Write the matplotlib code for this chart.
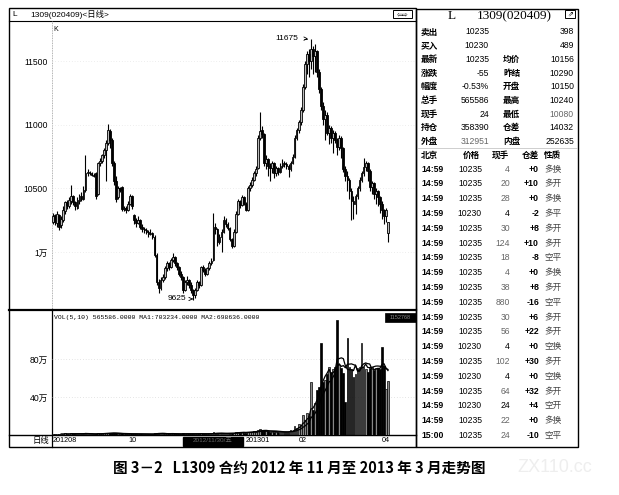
import matplotlib
matplotlib.use('Agg')
import matplotlib.pyplot as plt
import matplotlib.transforms as mtrans
from matplotlib.patches import Rectangle
import pandas as pd

# daily candles, Aug 2012 .. Apr 2013
opens = [10240, 10290, 10230, 10290, 10210, 10250, 10320, 10390, 10360, 10400,
         10440, 10390, 10350, 10400, 10440, 10420, 10490, 10620, 10630, 10620,
         10610, 10620, 10460, 10700, 10720, 10760, 10800, 10860, 10950, 10880,
         10700, 10560, 10430, 10500, 10510, 10340, 10350, 10330, 10380, 10440,
         10290, 10250, 10230, 10250, 10200, 10180, 10170, 10160, 10140, 10150,
         10120, 9980, 9760, 9720, 9780, 9800, 9870, 9910, 9880, 9940,
         9960, 9910, 9880, 9830, 9800, 9700, 9760, 9780, 9740, 9700,
         9660, 9700, 9760, 9740, 9880, 9860, 9830, 9870, 9910, 9940,
         10200, 10180, 10080, 10120, 10160, 10250, 10220, 10190, 10100, 10050,
         10160, 10300, 10400, 10370, 10430, 10380, 10330, 10500, 10530, 10570,
         10620, 10660, 10900, 10960, 10930, 10700, 10730, 10680, 10660, 10700,
         10620, 10660, 10630, 10680, 10700, 10690, 10680, 10650, 10700, 10750,
         10900, 10960, 11020, 11120, 11300, 11480, 11560, 11500, 11600, 11540,
         11580, 11420, 11280, 11150, 11050, 11080, 10940, 10980, 10900, 10940,
         10880, 10830, 10900, 10820, 10650, 10600, 10570, 10480, 10400, 10380,
         10440, 10500, 10570, 10620, 10670, 10700, 10640, 10510, 10540, 10460,
         10480, 10430, 10380, 10330, 10280, 10150]
highs = [10310, 10300, 10320, 10300, 10280, 10360, 10400, 10410, 10430, 10530,
         10450, 10400, 10430, 10460, 10470, 10520, 10760, 10650, 10640, 10630,
         10620, 10630, 10710, 10740, 10770, 10820, 10880, 11010, 10970, 10900,
         10720, 10600, 10520, 10510, 10520, 10360, 10360, 10400, 10460, 10450,
         10300, 10270, 10280, 10260, 10220, 10200, 10190, 10170, 10180, 10160,
         10130, 9990, 9790, 9800, 9830, 9890, 9930, 9920, 9950, 9990,
         9970, 9920, 9890, 9850, 9810, 9780, 9810, 9790, 9760, 9710,
         9720, 9780, 9770, 9890, 9900, 9870, 9880, 9930, 9950, 10310,
         10230, 10190, 10140, 10180, 10280, 10270, 10240, 10200, 10110, 10180,
         10320, 10420, 10410, 10450, 10440, 10390, 10520, 10550, 10590, 10640,
         10680, 10920, 11100, 10990, 10940, 10760, 10740, 10700, 10720, 10710,
         10680, 10670, 10700, 10730, 10720, 10710, 10690, 10720, 10770, 10920,
         10980, 11040, 11140, 11320, 11500, 11580, 11600, 11675, 11620, 11640,
         11590, 11440, 11300, 11180, 11120, 11100, 11000, 10990, 10960, 10950,
         10900, 10920, 10910, 10830, 10680, 10640, 10580, 10500, 10440, 10460,
         10520, 10590, 10640, 10740, 10720, 10710, 10650, 10560, 10550, 10500,
         10490, 10440, 10400, 10340, 10350, 10240]
lows = [10220, 10210, 10200, 10170, 10190, 10240, 10300, 10340, 10350, 10380,
        10370, 10330, 10340, 10380, 10400, 10410, 10470, 10600, 10610, 10600,
        10590, 10420, 10450, 10680, 10700, 10740, 10560, 10840, 10820, 10680,
        10530, 10390, 10420, 10470, 10320, 10320, 10310, 10320, 10370, 10340,
        10220, 10200, 10220, 10180, 10160, 10150, 10140, 10120, 10130, 10100,
        9960, 9740, 9680, 9700, 9760, 9790, 9850, 9860, 9870, 9920,
        9890, 9860, 9810, 9780, 9680, 9690, 9740, 9720, 9680, 9625,
        9640, 9690, 9720, 9730, 9840, 9810, 9820, 9860, 9900, 9930,
        10140, 10050, 10060, 10000, 10150, 10200, 10170, 10090, 10030, 10040,
        10150, 10290, 10350, 10360, 10370, 10320, 10320, 10480, 10510, 10560,
        10600, 10650, 10880, 10900, 10680, 10650, 10600, 10560, 10620, 10580,
        10600, 10610, 10620, 10660, 10670, 10650, 10590, 10640, 10690, 10740,
        10880, 10940, 11000, 11100, 11280, 11400, 11380, 11440, 11400, 11420,
        11380, 11250, 11120, 11000, 10880, 10920, 10850, 10860, 10780, 10860,
        10760, 10800, 10740, 10630, 10560, 10480, 10420, 10250, 10260, 10300,
        10420, 10480, 10550, 10600, 10640, 10560, 10480, 10460, 10420, 10380,
        10360, 10310, 10260, 10220, 10240, 10080]
closes = [10280, 10240, 10300, 10200, 10260, 10330, 10390, 10370, 10410, 10440,
          10390, 10360, 10410, 10440, 10420, 10490, 10620, 10630, 10620, 10610,
          10600, 10440, 10700, 10720, 10760, 10800, 10860, 10960, 10880, 10700,
          10560, 10420, 10500, 10490, 10340, 10350, 10330, 10380, 10440, 10360,
          10250, 10230, 10250, 10200, 10180, 10170, 10160, 10140, 10150, 10120,
          9980, 9760, 9720, 9780, 9800, 9870, 9910, 9880, 9940, 9960,
          9910, 9880, 9830, 9800, 9700, 9760, 9780, 9740, 9700, 9660,
          9700, 9760, 9740, 9880, 9860, 9830, 9870, 9910, 9930, 10200,
          10180, 10080, 10120, 10160, 10250, 10220, 10190, 10100, 10050, 10160,
          10300, 10400, 10370, 10430, 10380, 10330, 10500, 10530, 10570, 10620,
          10650, 10900, 10950, 10930, 10700, 10730, 10680, 10660, 10700, 10620,
          10660, 10630, 10680, 10700, 10690, 10680, 10650, 10700, 10750, 10900,
          10960, 11020, 11120, 11300, 11480, 11560, 11500, 11600, 11540, 11580,
          11420, 11280, 11150, 11050, 11080, 10940, 10980, 10900, 10940, 10880,
          10830, 10900, 10820, 10650, 10600, 10570, 10480, 10400, 10380, 10440,
          10500, 10570, 10620, 10670, 10700, 10640, 10510, 10540, 10460, 10480,
          10430, 10380, 10330, 10280, 10330, 10235]
volumes = [12000, 9000, 11000, 15000, 10000, 13000, 16000, 12000, 11000, 18000,
           14000, 10000, 12000, 15000, 11000, 17000, 26000, 9000, 8000, 8000,
           7000, 14000, 19000, 12000, 15000, 16000, 24000, 22000, 18000, 20000,
           21000, 19000, 14000, 10000, 17000, 9000, 8000, 11000, 13000, 12000,
           15000, 10000, 9000, 11000, 10000, 9000, 8000, 9000, 8000, 10000,
           18000, 24000, 20000, 15000, 12000, 14000, 13000, 10000, 12000, 11000,
           10000, 9000, 12000, 11000, 16000, 14000, 12000, 10000, 13000, 15000,
           12000, 14000, 11000, 17000, 12000, 10000, 13000, 14000, 12000, 28000,
           20000, 18000, 15000, 16000, 19000, 15000, 14000, 17000, 18000, 20000,
           30000, 34000, 26000, 28000, 25000, 24000, 36000, 32000, 34000, 38000,
           36000, 52000, 60000, 44000, 48000, 40000, 38000, 36000, 34000, 35000,
           32000, 30000, 31000, 33000, 30000, 32000, 36000,
           55000, 40000, 90000, 75000, 120000, 105000, 210000, 160000, 230000, 200000,
           558000, 260000, 337000, 474000, 505000, 968000, 560000, 579000, 640000, 715000,
           663000, 690000, 720000, 1210000, 740000, 700000, 650000, 347000, 1020000, 720000,
           690000, 610000, 640000, 700000, 715000, 968000, 720000, 690000, 660000, 700000,
           720000, 680000, 700000, 710000, 690000, 926000, 730000, 480000, 565586]

price_ticks = [10000, 10500, 11000, 11500]
price_tick_labels = ['1万', '10500', '11000', '11500']
vol_ticks = [400000, 800000]
vol_tick_labels = ['40万', '80万']
date_pos = [0, 37, 95, 121, 162]
date_labels = ['201208', '10', '201301', '02', '04']

# quote panel
q_labels = ['卖出', '买入', '最新', '涨跌', '幅度', '总手', '现手', '持仓', '外盘']
q_values = ['10235', '10230', '10235', '-55', '-0.53%', '565586', '24', '358390', '312951']
q_labels2 = ['', '', '均价', '昨结', '开盘', '最高', '最低', '仓差', '内盘']
q_values2 = ['398', '489', '10156', '10290', '10150', '10240', '10080', '14032', '252635']

t_times = ['14:59'] * 18 + ['15:00']
t_prices = ['10235', '10235', '10235', '10230', '10235', '10235', '10235', '10235', '10235', '10235',
            '10235', '10235', '10230', '10235', '10230', '10235', '10230', '10235', '10235']
t_vols = ['4', '20', '28', '4', '30', '124', '18', '4', '38', '880',
          '30', '56', '4', '102', '4', '64', '24', '22', '24']
t_oi = ['+0', '+10', '+0', '-2', '+8', '+10', '-8', '+0', '+8', '-16',
        '+6', '+22', '+0', '+30', '+0', '+32', '+4', '+0', '-10']
t_kind = ['多换', '多开', '多换', '多平', '多开', '多开', '空平', '多换', '多开', '空平',
          '多开', '多开', '空换', '多开', '空换', '多开', '空开', '多换', '空平']

plt.rcParams['font.family'] = ['Liberation Sans', 'Noto Sans CJK SC', 'DejaVu Sans']

W, H = 619, 495
fig = plt.figure(figsize=(W / 100, H / 100), dpi=100)
fig.patch.set_facecolor('white')

bg = fig.add_axes([0, 0, 1, 1])
bg.set_xlim(0, W)
bg.set_ylim(H, 0)
bg.axis('off')


def px_axes(x0, y0, x1, y1):
    a = fig.add_axes([x0 / W, 1 - y1 / H, (x1 - x0) / W, (y1 - y0) / H])
    a.set_facecolor('none')
    for s in a.spines.values():
        s.set_visible(False)
    return a


def line(x0, y0, x1, y1, **kw):
    kw.setdefault('color', 'black')
    kw.setdefault('lw', 0.8)
    bg.plot([x0, x1], [y0, y1], **kw)


# frames
bg.add_patch(Rectangle((9, 8), 407, 439, fill=False, ec='black', lw=1.0))
bg.add_patch(Rectangle((416, 9), 162, 438, fill=False, ec='black', lw=1.0))
line(9, 21, 416, 21, lw=0.8)
line(52, 21, 52, 309, color='#999999', lw=0.6, ls=(0, (1, 1)))
line(52, 309, 52, 447, lw=0.9)
line(9, 309.5, 416, 309.5, lw=1.6)
line(9, 435, 416, 435, lw=1.0)

# title bar
bg.text(12, 14.5, 'L', fontsize=6, va='center')
bg.text(30, 14.5, '1309(020409)<日线>', fontsize=6, va='center')
bg.add_patch(Rectangle((393, 10), 19, 8, fill=False, ec='black', lw=0.7))
bg.text(402.5, 14, '⇦⇨', fontsize=5, ha='center', va='center', family='DejaVu Sans')

# price panel
n = len(closes)
idx = list(range(n))
ax_p = px_axes(52, 22, 416, 309)
ax_p.set_xlim(-0.5, 178.8)
ax_p.set_ylim(9551, 11811)
ax_p.vlines(idx, lows, highs, color='black', lw=0.8, zorder=2)
up = [c >= o for o, c in zip(opens, closes)]
bottoms = [min(o, c) for o, c in zip(opens, closes)]
heights = [max(abs(c - o), 8) for o, c in zip(opens, closes)]
ax_p.bar(idx, heights, bottom=bottoms, width=0.85,
         color=['#bbbbbb' if u else 'black' for u in up],
         edgecolor='black', linewidth=0.6, zorder=3)
ax_p.set_xticks([])
ax_p.set_yticks(price_ticks)
ax_p.set_yticklabels(price_tick_labels)
ax_p.tick_params(axis='y', length=0, pad=3, labelsize=6.2)
for t in price_ticks:
    ax_p.axhline(t, color='#dddddd', lw=0.5, ls=(0, (1, 3)), zorder=1)
ax_p.text(0.005, 0.985, 'K', transform=ax_p.transAxes, fontsize=5, va='top', ha='left')

i_hi = highs.index(max(highs))
i_lo = lows.index(min(lows))
ax_p.annotate(str(max(highs)), xy=(i_hi, max(highs)), xytext=(i_hi - 6, max(highs) + 5),
              fontsize=6, ha='right', va='center',
              arrowprops=dict(arrowstyle='->', lw=0.6, color='black',
                              connectionstyle='angle,angleA=0,angleB=90'))
ax_p.annotate(str(min(lows)), xy=(i_lo, min(lows) + 5), xytext=(i_lo - 3.5, min(lows) + 5),
              fontsize=6, ha='right', va='center',
              arrowprops=dict(arrowstyle='->', lw=0.6, color='black'))

# volume panel
ax_v = px_axes(52, 310, 416, 435)
ax_v.set_xlim(-0.5, 178.8)
ax_v.set_ylim(0, 1315789)
ax_v.bar(idx, volumes, width=0.85,
         color=['#888888' if u else 'black' for u in up],
         edgecolor='black', linewidth=0.5, zorder=3)
vs = pd.Series(volumes)
ax_v.plot(idx, vs.rolling(5).mean(), color='black', lw=0.9, zorder=4)
ax_v.plot(idx, vs.rolling(10).mean(), color='black', lw=0.9, zorder=4)
ax_v.set_xticks([])
ax_v.set_yticks(vol_ticks)
ax_v.set_yticklabels(vol_tick_labels)
ax_v.tick_params(axis='y', length=0, pad=3, labelsize=6.2)
for t in vol_ticks:
    ax_v.axhline(t, color='#cccccc', lw=0.5, ls=(0, (1, 3)), zorder=1)
ax_v.text(0.005, 0.96, 'VOL(5,10) 565586.0000 MA1:703234.0000 MA2:698636.0000',
          transform=ax_v.transAxes, fontsize=4.6, family='Liberation Mono', va='top')
bg.add_patch(Rectangle((385, 313), 31, 9, fc='black', ec='black', lw=0.5, zorder=5))
bg.text(400.5, 317.5, '1152768', fontsize=4, color='#888888', ha='center', va='center', zorder=6)

# date row
tr = mtrans.blended_transform_factory(ax_v.transData, bg.transData)
for p, lab in zip(date_pos, date_labels):
    fig.text(p, 441, lab, transform=tr, fontsize=5.2, ha='left', va='center')
bg.text(49, 441, '日线', fontsize=6, ha='right', va='center')
bg.add_patch(Rectangle((183, 436.5), 60, 9, fc='black', ec='black', zorder=5))
bg.text(213, 441, '2012/11/30/五', fontsize=4.6, color='#666666', ha='center', va='center', zorder=6)

# quote table
bg.text(448, 16, 'L', fontsize=9.5, family='Liberation Serif', va='center')
bg.text(477, 16, '1309(020409)', fontsize=9.5, family='Liberation Serif', va='center')
bg.add_patch(Rectangle((565, 10), 10, 8, fill=False, ec='black', lw=0.7))
bg.text(570, 14, '⇗', fontsize=5, ha='center', va='center', family='DejaVu Sans')

fs = 6.2
for k in range(len(q_labels)):
    y = 32 + k * 13.7
    bg.text(421, y, q_labels[k], fontsize=fs, va='center', weight='bold')
    col = '#666666' if q_labels[k] == '外盘' else 'black'
    bg.text(489, y, q_values[k], fontsize=fs, va='center', ha='right', color=col)
    if q_labels2[k]:
        bg.text(503, y, q_labels2[k], fontsize=fs, va='center', weight='bold')
    col2 = '#666666' if q_labels2[k] == '最低' else 'black'
    bg.text(574, y, q_values2[k], fontsize=fs, va='center', ha='right', color=col2)
line(418, 148, 577, 148, color='#bbbbbb', lw=0.5)

hy = 155.3
bg.text(421, hy, '北京', fontsize=fs, va='center', weight='bold')
bg.text(463, hy, '价格', fontsize=fs, va='center', weight='bold')
bg.text(492, hy, '现手', fontsize=fs, va='center', weight='bold')
bg.text(522, hy, '仓差', fontsize=fs, va='center', weight='bold')
bg.text(544, hy, '性质', fontsize=fs, va='center', weight='bold')
for k in range(len(t_times)):
    y = 169 + k * 14.8
    bg.text(421, y, t_times[k], fontsize=fs, va='center', weight='bold')
    bg.text(482, y, t_prices[k], fontsize=fs, va='center', ha='right')
    vcol = 'black' if t_prices[k] == '10230' else '#666666'
    bg.text(510, y, t_vols[k], fontsize=fs, va='center', ha='right', color=vcol)
    bg.text(539, y, t_oi[k], fontsize=fs, va='center', ha='right', weight='bold')
    bg.text(544, y, t_kind[k], fontsize=fs, va='center', color='#444444')

# caption
bg.text(299, 468, '图 3－2   L1309 合约 2012 年 11 月至 2013 年 3 月走势图',
        fontsize=10.5, weight='bold', ha='center', va='center',
        family=['Noto Sans CJK SC', 'DejaVu Sans'])
bg.text(555, 468, 'ZX110.cc', fontsize=13, color='#eeeeee', ha='center', va='center')

fig.savefig('out.png', dpi=100)
